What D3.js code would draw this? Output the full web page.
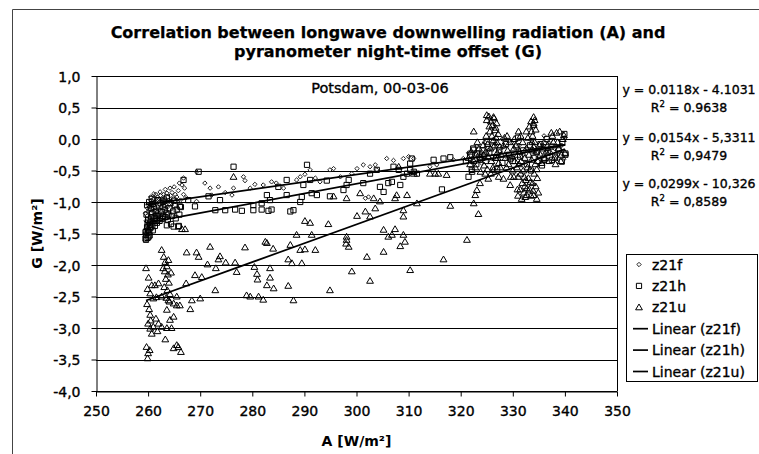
<!DOCTYPE html>
<html>
<head>
<meta charset="utf-8">
<script src="https://cdn.jsdelivr.net/npm/d3@7"></script>
<style>
  html, body { margin: 0; padding: 0; background: #fff; }
  svg { display: block; }
  text { font-family: "DejaVu Sans", sans-serif; fill: #000; }
</style>
</head>
<body>
<svg id="chart" width="759" height="454"></svg>
<script>
// ---- axis ticks ----
const xTicks = [250, 260, 270, 280, 290, 300, 310, 320, 330, 340, 350];
const yTicks = [1.0, 0.5, 0.0, -0.5, -1.0, -1.5, -2.0, -2.5, -3.0, -3.5, -4.0];

// ---- series: [A (W/m²), G (W/m²)] ----
const z21f = [
  [259.6,-1.30],[259.8,-1.22],[260.0,-1.15],[260.2,-1.08],[260.4,-1.02],[260.6,-0.98],[260.8,-1.12],[261.0,-1.05],
  [261.2,-0.95],[261.4,-1.00],[261.6,-1.10],[261.8,-0.92],[262.0,-0.98],[262.2,-1.04],[262.4,-0.90],[262.6,-0.95],
  [262.8,-1.02],[263.0,-0.88],[263.2,-0.94],[263.4,-1.00],[263.6,-0.86],[263.8,-0.92],[264.0,-0.97],[264.3,-0.90],
  [264.6,-0.85],[264.9,-0.95],[265.2,-0.88],[265.5,-0.92],[265.8,-0.82],[260.3,-1.25],[260.5,-1.18],[260.9,-1.28],
  [261.3,-1.20],[261.7,-1.16],[262.1,-1.12],[262.5,-1.08],[263.1,-1.06],[259.7,-1.40],[260.1,-1.35],[266.2,-0.97],
  [266.8,-0.88],[267.3,-0.93],
  [259.9,-1.10],[260.7,-1.06],[261.5,-0.88],[262.3,-0.84],[263.3,-0.80],[264.2,-0.78],[265.0,-0.76],[261.9,-1.20],
  [262.7,-0.99],[263.7,-1.08],[264.5,-1.02],[265.3,-0.99],[260.5,-0.92],[261.1,-0.87],[266.0,-0.70],[259.5,-1.18],
  [266.5,-0.73],[266.8,-0.62],[267.0,-0.78],[269.3,-0.52],[270.9,-0.70],[271.9,-0.78],[273.5,-0.76],[274.8,-0.85],
  [278.3,-0.60],[278.6,-0.66],[276.4,-0.78],[276.1,-0.89],[279.6,-0.78],[280.5,-0.72],[282.1,-0.73],[283.7,-0.68],
  [284.6,-0.70],[286.0,-0.78],[288.5,-0.65],[289.2,-0.60],[290.1,-0.56],[291.1,-0.49],[292.1,-0.62],[293.0,-0.68],
  [294.9,-0.49],[295.6,-0.47],[296.9,-0.60],[299.1,-0.55],[300.1,-0.47],[301.3,-0.41],[302.6,-0.44],[303.9,-0.49],
  [301.7,-0.94],[302.3,-0.92],[272.2,-0.89],[269.3,-0.99],
  [305.8,-0.31],[307.1,-0.34],[309.0,-0.31],[310.0,-0.28],[311.0,-0.31],[303.6,-0.41],[314.1,-0.44],[315.4,-0.41],
  [318.6,-0.33],[320.5,-0.31],
  [321.5,-0.22],[322.3,-0.30],[323.1,-0.12],[323.9,-0.22],[324.6,-0.05],[325.3,-0.18],[326.0,-0.28],[326.7,-0.08],
  [327.5,-0.20],[328.3,-0.12],[329.0,-0.30],[329.8,-0.05],[330.5,-0.22],[331.2,-0.10],[332.0,-0.25],[332.8,-0.15],
  [333.5,-0.02],[334.3,-0.18],[335.0,-0.28],[335.8,-0.10],[336.5,-0.18],[337.2,-0.02],[338.0,-0.15],[338.7,-0.25],
  [339.4,-0.10],[340.0,0.02],[339.8,-0.32],[324.0,-0.38],[328.0,0.00],[336.0,0.05]
];

const z21h = [
  [259.5,-1.58],[259.6,-1.52],[259.7,-1.46],[259.8,-1.40],[259.9,-1.34],[260.0,-1.28],[260.1,-1.55],[260.2,-1.48],
  [260.3,-1.42],[260.4,-1.36],[260.5,-1.30],[260.6,-1.24],[260.8,-1.18],[261.0,-1.34],[261.2,-1.26],[261.4,-1.30],
  [261.6,-1.22],[261.8,-1.28],[262.0,-1.20],[262.3,-1.25],[262.6,-1.15],[262.9,-1.22],[263.2,-1.12],[263.5,-1.18],
  [263.8,-1.28],[264.1,-1.10],[264.4,-1.35],[264.8,-1.15],[265.1,-1.05],[265.5,-1.12],[265.9,-1.38],[266.3,-1.08],
  [259.8,-1.05],[260.2,-1.00],[260.7,-0.95],[261.1,-1.08],[262.4,-1.02],[263.0,-0.98],
  [259.6,-1.60],[259.9,-1.57],[260.3,-1.53],[260.0,-1.45],[260.6,-1.40],[260.9,-1.45],[261.3,-1.38],[261.7,-1.33],
  [262.2,-1.30],[262.7,-1.27],[263.3,-1.24],[263.9,-1.20],[264.6,-1.22],[265.3,-1.26],[260.5,-1.10],[261.5,-1.15],
  [262.8,-1.08],[264.3,-1.02],[259.7,-1.20],[260.9,-1.03],[261.9,-0.97],[263.6,-0.93],[265.0,-0.98],[266.0,-1.20],
  [259.5,-1.48],
  [269.7,-0.52],[276.4,-0.44],[290.5,-0.41],[266.8,-0.65],[272.9,-1.13],[274.8,-1.13],[276.7,-1.12],[278.0,-1.14],
  [280.2,-1.13],[281.8,-1.12],[283.1,-1.14],[283.7,-1.12],[287.3,-1.15],[287.9,-1.13],[269.0,-1.07],[266.1,-1.07],
  [267.7,-0.97],[271.6,-0.91],[273.8,-0.97],[280.2,-1.05],[281.8,-1.02],[283.4,-0.97],[282.8,-0.89],[286.6,-0.89],
  [289.2,-1.00],[289.5,-0.92],[291.4,-0.86],[292.4,-0.89],[294.9,-0.91],[294.3,-0.66],[297.5,-0.81],[298.1,-0.73],
  [298.5,-0.65],[301.3,-0.70],[302.6,-0.55],[286.6,-0.65],[285.0,-0.76],[289.8,-0.73],[291.1,-0.65],[264.9,-1.39],
  [263.6,-1.37],[265.8,-1.39],
  [305.2,-0.84],[304.5,-0.76],[306.1,-0.70],[306.8,-0.68],[308.4,-0.73],[309.0,-0.60],[309.7,-0.55],[310.3,-0.49],
  [311.0,-0.52],[311.6,-0.55],[308.1,-0.49],[307.1,-0.44],[303.9,-0.49],[310.6,-0.31],[310.3,-0.39],[314.8,-0.33],
  [316.7,-0.31],[318.0,-0.29],[316.4,-0.80],[321.5,-0.60],[322.5,-0.17],[323.1,-0.23],[322.1,-0.49],[323.7,-0.33],
  [329.5,-0.31],[335.9,-0.31],[337.5,-0.33],[339.4,-0.36],[340.1,-0.23],
  [321.0,-0.35],[321.8,-0.25],[322.4,-0.15],[323.0,-0.40],[323.6,-0.28],[324.2,-0.18],[324.8,-0.35],[325.5,-0.22],
  [326.1,-0.12],[326.8,-0.30],[327.4,-0.18],[328.0,-0.38],[328.7,-0.08],[329.3,-0.25],[330.0,-0.35],[330.7,-0.12],
  [331.4,-0.28],[332.0,-0.18],[332.7,-0.40],[333.3,-0.10],[334.0,-0.30],[334.6,-0.20],[335.3,-0.08],[336.0,-0.33],
  [336.7,-0.22],[337.4,-0.12],[338.1,-0.28],[338.8,-0.18],[339.5,-0.05],[340.1,-0.25],[325.0,-0.05],[331.0,0.02],
  [336.5,0.00],[339.9,0.08],[327.0,-0.48],[333.5,-0.50],[322.2,-0.52],[335.6,-0.42]
];

const z21u = [
  [262.6,-1.76],[263.0,-1.87],[263.3,-1.95],[263.6,-2.02],[263.2,-2.10],[263.8,-2.15],[263.4,-2.22],[264.0,-2.28],
  [263.1,-2.35],[263.7,-2.40],[264.2,-2.46],[263.5,-2.52],[264.1,-2.58],[262.9,-2.05],[263.9,-1.92],[264.4,-2.12],
  [260.4,-2.45],[261.3,-2.32],[260.7,-2.32],[262.0,-2.29],[262.6,-2.50],[261.6,-2.51],[261.0,-2.53],[263.9,-2.56],
  [264.9,-2.61],[265.5,-2.64],[266.1,-2.64],[265.5,-2.50],[263.6,-2.71],[264.2,-2.87],[264.9,-2.82],[263.6,-3.00],
  [264.5,-3.00],[263.3,-3.18],[264.9,-3.32],[265.5,-3.27],[260.4,-2.79],[260.0,-2.93],[260.7,-3.09],[259.7,-3.30],
  [260.0,-3.40],[262.6,-2.98],[262.0,-2.93],[260.4,-3.01],[268.1,-2.70],[268.4,-2.56],[270.0,-2.53],[259.9,-3.48],
  [260.3,-3.35],[261.0,-2.98],[259.8,-2.62],[260.2,-2.70],[261.5,-2.85],[259.6,-2.05],[260.1,-2.20],[259.9,-2.38],
  [260.5,-2.88],[261.8,-3.05],[266.3,-3.38],[265.8,-3.30],
  [266.5,-1.43],[267.1,-1.43],[267.4,-1.80],[269.3,-1.80],[271.9,-1.71],[269.7,-1.87],[273.8,-1.86],[273.5,-1.91],
  [278.6,-1.72],[282.5,-1.63],[284.0,-1.74],[287.3,-1.68],[288.5,-1.52],[291.4,-1.52],[290.1,-1.75],[289.2,-1.76],
  [292.1,-1.76],[294.6,-1.35],[298.1,-1.60],[298.5,-1.71],[302.0,-1.87],[291.1,-1.33],[271.4,-1.99],[273.0,-2.05],
  [274.9,-1.96],[276.7,-1.96],[277.0,-2.11],[269.0,-2.16],[270.3,-2.19],[267.3,-2.29],[280.4,-2.03],[280.9,-2.14],
  [281.0,-2.23],[283.4,-2.20],[282.8,-2.32],[284.1,-2.37],[283.4,-2.05],[286.9,-2.33],[287.6,-1.97],[289.5,-1.97],
  [286.9,-1.91],[294.9,-2.40],[299.1,-2.10],[302.6,-2.25],[272.9,-2.40],[278.9,-2.48],[279.6,-2.50],[281.2,-2.50],
  [282.1,-2.55],[287.9,-2.56],
  [290.1,-1.30],[282.8,-1.65],[300.1,-1.22],[301.7,-1.15],[303.6,-1.10],[298.1,-0.94],[300.7,-0.86],[303.3,-0.94],
  [295.6,-0.91],[276.4,-0.60],[298.1,-1.55],[298.0,-1.66],
  [302.6,-1.23],[304.5,-0.99],[307.4,-0.94],[307.7,-0.89],[309.0,-1.13],[309.0,-1.23],[305.2,-1.44],[306.1,-1.55],
  [306.8,-1.52],[307.4,-1.43],[309.0,-1.52],[309.3,-1.63],[308.4,-1.70],[305.2,-1.79],[310.3,-2.08],[316.7,-1.91],
  [321.2,-1.60],[318.0,-1.06],[323.4,-1.19],[322.5,-1.02],[322.8,-0.89],[323.1,-0.81],[323.7,-0.70],[324.7,-0.55],
  [325.3,-0.63],[326.3,-0.49],[327.3,-0.60],[328.2,-0.63],[329.5,-0.73],[330.2,-0.60],[322.5,0.12],[325.0,0.38],
  [326.3,0.35],[326.9,0.25],[326.6,0.14],[331.1,0.12],[334.0,0.35],[334.0,0.25],[332.7,-0.89],[334.0,-0.89],
  [309.7,-0.89],[311.6,-1.02],[314.1,-0.55],[315.1,-0.55],[315.7,-0.55],[317.3,-0.57],[311.0,-0.55],[308.1,-0.44],
  [325.0,0.30],[325.4,0.36],[325.8,0.28],[326.1,0.22],[326.4,0.33],[326.7,0.18],[325.6,0.12],[326.0,0.05],
  [326.3,-0.02],[325.2,-0.08],[325.7,-0.15],[326.5,-0.10],[326.9,-0.05],[327.2,0.08],[324.8,-0.20],[325.3,-0.28],
  [325.9,-0.35],[326.6,-0.30],[327.0,-0.22],[327.5,-0.12],[324.5,-0.42],[325.1,-0.48],[325.8,-0.55],[326.2,-0.45],
  [327.3,-0.38],
  [330.6,-0.10],[330.9,-0.25],[331.2,-0.40],[331.5,-0.55],[331.8,-0.70],[332.1,-0.85],[332.4,-0.92],[332.7,-0.78],
  [333.0,-0.62],[333.3,-0.48],[333.6,-0.33],[333.9,-0.18],[334.2,-0.05],[334.5,-0.20],[334.8,-0.35],[331.0,-0.60],
  [331.4,-0.80],[331.7,-0.95],[332.0,-0.50],[332.3,-0.30],[332.6,-0.15],[332.9,0.02],[333.2,-0.80],[333.5,-0.90],
  [333.8,-0.70],[334.1,-0.55],[334.4,-0.75],[334.7,-0.62],[330.8,-0.45],[331.3,-0.20],[331.9,-0.05],[332.5,-0.65],
  [333.1,-0.25],[333.7,-0.05],[334.3,-0.40],[334.9,-0.85],
  [333.6,0.12],[334.0,0.22],[334.2,0.30],[333.8,0.05],[334.4,0.15],[333.5,0.28],
  [327.8,-0.25],[328.2,-0.10],[328.6,-0.30],[329.0,-0.18],[329.4,-0.05],[329.8,-0.28],[330.2,-0.15],[328.4,0.02],
  [329.2,-0.40],[330.0,-0.50],
  [321.5,-0.30],[322.0,-0.20],[322.5,-0.35],[323.0,-0.25],[323.5,-0.15],[324.0,-0.30],[324.3,-0.10],[322.8,-0.45],
  [323.8,-0.52],
  [335.3,-0.25],[335.8,-0.15],[336.2,-0.30],[336.7,-0.10],[337.1,-0.20],[337.6,0.05],[338.0,-0.30],[338.4,0.10],
  [338.8,-0.15],[339.2,-0.35],[339.6,0.00],[340.0,-0.22],[338.2,-0.40],[339.0,0.12],[337.8,-0.05],
  [324.9,0.05],[325.5,0.20],[326.8,0.02],[327.1,-0.30],[327.6,-0.45],[328.8,-0.45],[329.6,-0.60],[330.4,-0.35],
  [330.9,-0.80],[331.6,-0.35],[332.2,-0.60],[332.8,-0.45],[333.4,-0.68],[334.0,-0.12],[334.6,-0.48],[335.1,-0.10],
  [335.5,-0.38],[336.0,-0.05],[336.4,-0.20],[337.0,-0.35],[337.4,0.10],[338.6,-0.05],[339.3,-0.25],[339.8,0.06],
  [321.8,-0.40],[323.2,-0.05],[324.4,-0.25],[331.0,-0.90],[332.3,-0.75],[333.9,-0.82],[334.6,-0.95],[331.5,0.05],
  [332.6,0.12],[333.2,0.20],[330.3,0.00],[328.9,0.05]
];

// ---- linear fits (one per series) ----
const seriesNames   = ["z21f", "z21h", "z21u"];
const fitSlopes     = [0.0118, 0.0154, 0.0299];
const fitIntercepts = [-4.1031, -5.3311, -10.326];
const fitEquations  = ["y = 0.0118x - 4.1031", "y = 0,0154x - 5,3311", "y = 0,0299x - 10,326"];
const fitR2         = ["0.9638", "0,9479", "0,8589"];
const legendLabels  = ["z21f", "z21h", "z21u", "Linear (z21f)", "Linear (z21h)", "Linear (z21u)"];

const titleLines = ["Correlation between longwave downwelling radiation (A) and",
                    "pyranometer night-time offset (G)"];
const stationLabel = "Potsdam, 00-03-06";
const xLabel = "A [W/m²]";
const yLabel = "G [W/m²]";

// ---- layout ----
const svg = d3.select("#chart");
const plot = { left: 96, right: 617, top: 76, bottom: 391 };

const x = d3.scaleLinear().domain([250, 350]).range([plot.left, plot.right]);
const y = d3.scaleLinear().domain([-4, 1]).range([plot.bottom, plot.top]);

const comma1 = v => v.toFixed(1).replace(".", ",");
// slightly heavier strokes on regular text, like a printed chart
const heavy = sel => sel.attr("stroke", "#000").attr("stroke-width", 0.35);

// chart frame
svg.append("path")
  .attr("d", "M12.5,454 V9.5 H759")
  .attr("fill", "none").attr("stroke", "#444").attr("stroke-width", 1);

// title
svg.append("g").selectAll("text").data(titleLines).join("text")
  .attr("x", 388).attr("y", (d, i) => 38 + i * 19)
  .attr("text-anchor", "middle")
  .attr("font-size", 16).attr("font-weight", "bold")
  .attr("stroke", "#000").attr("stroke-width", 0.25)
  .text(d => d);

// horizontal gridlines
svg.append("g").selectAll("line").data(yTicks).join("line")
  .attr("x1", plot.left).attr("x2", plot.right)
  .attr("y1", d => Math.round(y(d)) + 0.5).attr("y2", d => Math.round(y(d)) + 0.5)
  .attr("stroke", "#000").attr("stroke-width", 1);

// right edge of plot area
svg.append("line")
  .attr("x1", plot.right + 0.5).attr("x2", plot.right + 0.5)
  .attr("y1", plot.top).attr("y2", plot.bottom)
  .attr("stroke", "#000");

// axes
const yAxis = svg.append("g")
  .attr("transform", `translate(${plot.left + 0.5},0)`)
  .call(d3.axisLeft(y).tickValues(yTicks).tickFormat(comma1).tickSize(5).tickSizeOuter(0));
const xAxis = svg.append("g")
  .attr("transform", `translate(0,${plot.bottom + 0.5})`)
  .call(d3.axisBottom(x).tickValues(xTicks).tickFormat(d3.format("d")).tickSize(5).tickSizeOuter(0));

[yAxis, xAxis].forEach(g => {
  g.selectAll("path.domain").attr("stroke", "#000");
  g.selectAll(".tick line").attr("stroke", "#000");
  g.selectAll(".tick text")
    .attr("font-family", "DejaVu Sans").attr("font-size", 14).attr("fill", "#000")
    .call(heavy);
});
yAxis.selectAll(".tick text").attr("x", -16).attr("dy", "0.36em");
xAxis.selectAll(".tick text").attr("y", 15).attr("dy", "0.71em");

// axis titles
svg.append("text")
  .attr("x", (plot.left + plot.right) / 2).attr("y", 446)
  .attr("text-anchor", "middle").attr("font-size", 14).attr("font-weight", "bold")
  .text(xLabel);
svg.append("text")
  .attr("transform", `translate(42,${(plot.top + plot.bottom) / 2}) rotate(-90)`)
  .attr("text-anchor", "middle").attr("font-size", 14).attr("font-weight", "bold")
  .text(yLabel);

// station/date label
svg.append("text")
  .attr("x", 380).attr("y", 92.5).attr("text-anchor", "middle")
  .attr("font-size", 14.5).call(heavy).text(stationLabel);

// marker shapes
const markerPaths = [
  "M0,-2.2L2.2,0L0,2.2L-2.2,0Z",
  "M-2.6,-2.6H2.6V2.6H-2.6Z",
  "M0,-3.3L3.4,2.5L-3.4,2.5Z"
];
const markerStroke = ["#222", "#000", "#000"];
const seriesData = [z21f, z21h, z21u];

const pts = svg.append("g");
seriesData.forEach((data, i) => {
  pts.append("g").attr("class", seriesNames[i])
    .selectAll("path").data(data).join("path")
    .attr("transform", d => `translate(${x(d[0])},${y(d[1])})`)
    .attr("d", markerPaths[i])
    .attr("fill", "none").attr("stroke", markerStroke[i]).attr("stroke-width", 1);
});

// linear trend lines spanning each series' A range
const line = d3.line().x(d => x(d[0])).y(d => y(d[1]));
seriesData.forEach((data, i) => {
  const ext = d3.extent(data, d => d[0]);
  const seg = ext.map(a => [a, fitSlopes[i] * a + fitIntercepts[i]]);
  svg.append("path").datum(seg)
    .attr("d", line).attr("fill", "none")
    .attr("stroke", "#000").attr("stroke-width", 1.7);
});

// fit equations on the right
const eqY = [89, 137, 183];
const eqG = svg.append("g").attr("font-size", 12.5).attr("text-anchor", "middle").call(heavy);
fitEquations.forEach((eq, i) => {
  eqG.append("text").attr("x", 689).attr("y", eqY[i] + 4.5).text(eq);
  const r = eqG.append("text").attr("x", 689).attr("y", eqY[i] + 18.5 + 4.5);
  r.append("tspan").text("R");
  r.append("tspan").attr("font-size", 8.5).attr("dy", -5).text("2");
  r.append("tspan").attr("dy", 5).text(" = " + fitR2[i]);
});

// legend
const lg = svg.append("g");
lg.append("rect")
  .attr("x", 626.5).attr("y", 254.5).attr("width", 131).attr("height", 127)
  .attr("fill", "#fff").attr("stroke", "#000");
legendLabels.forEach((lab, i) => {
  const cy = 264.5 + i * 21.4;
  if (i < 3) {
    lg.append("path")
      .attr("transform", `translate(639,${cy})`)
      .attr("d", markerPaths[i]).attr("fill", "none")
      .attr("stroke", markerStroke[i]).attr("stroke-width", 1);
  } else {
    lg.append("line")
      .attr("x1", 633).attr("x2", 648).attr("y1", cy).attr("y2", cy)
      .attr("stroke", "#000").attr("stroke-width", 1.7);
  }
  lg.append("text").attr("x", 652).attr("y", cy).attr("dy", "0.36em")
    .attr("font-size", 14).call(heavy).text(lab);
});
</script>
</body>
</html>
